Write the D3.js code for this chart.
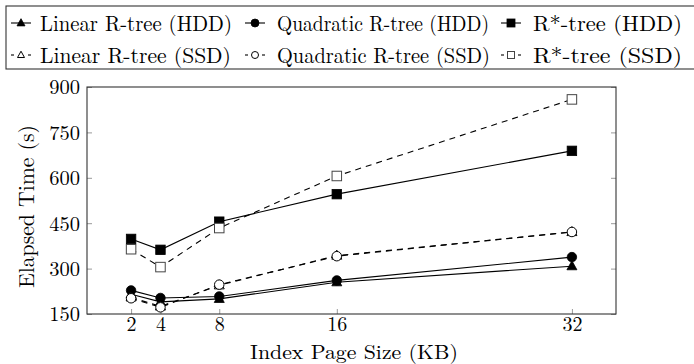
<!DOCTYPE html>
<html><head><meta charset="utf-8">
<script src="https://cdn.jsdelivr.net/npm/d3@7"></script>
<style>body{margin:0;background:#fff}svg{display:block}</style>
</head><body><svg id="c" width="694" height="364"></svg>
<script>
const pageSizes = [2, 4, 8, 16, 32];
const xTicks = [2, 4, 8, 16, 32];
const yTicks = [150, 300, 450, 600, 750, 900];
const linearHDD = [215, 190, 200, 255, 308];
const quadraticHDD = [228, 203, 208, 261, 338];
const rstarHDD = [398, 362, 455, 546, 689];
const linearSSD = [205, 175, 245, 343, 421];
const quadraticSSD = [202, 172, 247, 341, 421];
const rstarSSD = [364, 305, 434, 606, 859];
const seriesNames = ["Linear R-tree (HDD)", "Quadratic R-tree (HDD)", "R*-tree (HDD)",
                     "Linear R-tree (SSD)", "Quadratic R-tree (SSD)", "R*-tree (SSD)"];

const FONT = '"Latin Modern Roman"';
const series = [
  {name: seriesNames[0], vals: linearHDD, shape: "tri", fill: true, dash: null},
  {name: seriesNames[1], vals: quadraticHDD, shape: "circ", fill: true, dash: null},
  {name: seriesNames[2], vals: rstarHDD, shape: "sq", fill: true, dash: null},
  {name: seriesNames[3], vals: linearSSD, shape: "tri", fill: false, dash: "6,5"},
  {name: seriesNames[4], vals: quadraticSSD, shape: "circ", fill: false, dash: "6,5"},
  {name: seriesNames[5], vals: rstarSSD, shape: "sq", fill: false, dash: "6,5"}
];

const svg = d3.select("#c");
const L = 87, R = 616, T = 87, B = 314;
const x = d3.scaleLinear().domain([-1, 35]).range([L, R]);
const y = d3.scaleLinear().domain([150, 900]).range([B, T]);

const gy = svg.append("g").attr("transform", `translate(${L},0)`)
  .call(d3.axisLeft(y).tickValues(yTicks).tickSize(-5).tickPadding(7));
const gyr = svg.append("g").attr("transform", `translate(${R},0)`)
  .call(d3.axisRight(y).tickValues(yTicks).tickSize(-5).tickFormat(""));
const gx = svg.append("g").attr("transform", `translate(0,${B})`)
  .call(d3.axisBottom(x).tickValues(xTicks).tickSize(-5).tickPadding(4));
[gy, gyr, gx].forEach(g => {
  g.attr("font-family", FONT).attr("font-size", 20.5);
  g.select(".domain").remove();
  g.selectAll(".tick line").attr("stroke", "#999").attr("stroke-width", 1);
  g.selectAll("text").attr("font-family", FONT).attr("font-size", 20.5).attr("fill", "#000");
});
gx.selectAll(".tick text").attr("font-size", 20).attr("dy", "0.66em");
gy.selectAll(".tick text").attr("dy", "0.34em");

svg.append("rect").attr("x", L).attr("y", T).attr("width", R - L).attr("height", B - T)
  .attr("fill", "none").attr("stroke", "#333").attr("stroke-width", 1.1);

function marker(g, shape, fill, cx, cy, s) {
  const f = fill ? "#000" : "#fff";
  const sw = fill ? 0.8 : 1;
  if (shape === "sq") {
    g.append("rect").attr("x", cx - s/2).attr("y", cy - s/2).attr("width", s).attr("height", s)
      .attr("fill", f).attr("stroke", fill ? "#000" : "#444").attr("stroke-width", sw);
  } else if (shape === "circ") {
    g.append("circle").attr("cx", cx).attr("cy", cy).attr("r", s/2)
      .attr("fill", f).attr("stroke", "#000").attr("stroke-width", sw);
  } else {
    const h = s * 0.9;
    g.append("path").attr("d", `M${cx},${cy - h*0.6}L${cx + s/2},${cy + h*0.4}L${cx - s/2},${cy + h*0.4}Z`)
      .attr("fill", f).attr("stroke", "#000").attr("stroke-width", sw);
  }
}

const line = d3.line().x((d, i) => x(pageSizes[i])).y(d => y(d));
const plot = svg.append("g");
series.forEach(s => {
  plot.append("path").attr("d", line(s.vals)).attr("fill", "none")
    .attr("stroke", "#000").attr("stroke-width", 1.1)
    .attr("stroke-dasharray", s.dash);
});
series.forEach(s => {
  const g = plot.append("g");
  s.vals.forEach((v, i) => marker(g, s.shape, s.fill, x(pageSizes[i]), y(v), s.shape === "tri" ? 10 : 9.5));
});

svg.append("text").attr("x", 354).attr("y", 358.5).attr("text-anchor", "middle")
  .attr("font-family", FONT).attr("font-size", 20)
  .attr("textLength", 208).attr("lengthAdjust", "spacingAndGlyphs")
  .text("Index Page Size (KB)");
svg.append("text").attr("transform", `translate(34,${(125 + 288) / 2}) rotate(-90)`)
  .attr("text-anchor", "middle").attr("font-family", FONT).attr("font-size", 21.5)
  .attr("textLength", 163).attr("lengthAdjust", "spacingAndGlyphs")
  .text("Elapsed Time (s)");

svg.append("rect").attr("x", 6).attr("y", 6).attr("width", 700).attr("height", 63)
  .attr("fill", "#fff").attr("stroke", "#333").attr("stroke-width", 1.1);
const legCols = [{mx: 21, tx: 40}, {mx: 255, tx: 277}, {mx: 511, tx: 533}];
const legRows = [23, 55];
const legWidths = [192, 212, 149, 191, 213, 149];
series.forEach((s, i) => {
  const c = legCols[i % 3], ry = legRows[Math.floor(i / 3)];
  const g = svg.append("g");
  if (s.dash) {
    g.append("line").attr("x1", c.mx - 10).attr("x2", c.mx - 7).attr("y1", ry).attr("y2", ry).attr("stroke", "#000").attr("stroke-width", 1.1);
    g.append("line").attr("x1", c.mx + 7).attr("x2", c.mx + 10).attr("y1", ry).attr("y2", ry).attr("stroke", "#000").attr("stroke-width", 1.1);
  } else {
    g.append("line").attr("x1", c.mx - 10).attr("x2", c.mx + 10).attr("y1", ry).attr("y2", ry).attr("stroke", "#000").attr("stroke-width", 1.1);
  }
  marker(g, s.shape, s.fill, c.mx, ry, s.fill ? 8 : 7);
  g.append("text").attr("x", c.tx).attr("y", ry + 7.5).attr("font-family", FONT).attr("font-size", 21.5)
    .attr("textLength", legWidths[i]).attr("lengthAdjust", "spacingAndGlyphs").text(s.name);
});
</script></body></html>
